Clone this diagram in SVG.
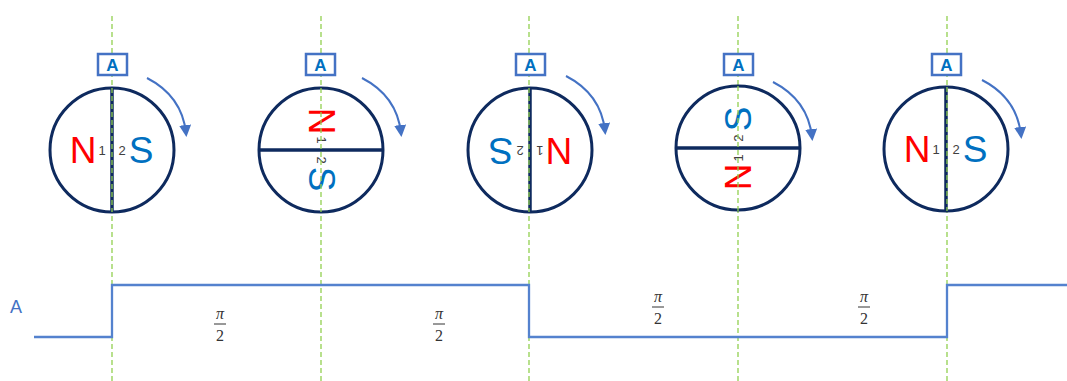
<svg xmlns="http://www.w3.org/2000/svg" width="1067" height="381" viewBox="0 0 1067 381">
  <defs>
    <style>
      .guide{stroke:#92D050;stroke-width:1.3;stroke-dasharray:5 3;fill:none}
      .disc{fill:#fff;stroke:#0E2A5E;stroke-width:3}
      .bar{stroke:#0E2A5E;stroke-width:3.5}
      .pole{font-family:"Liberation Sans",Arial,sans-serif;font-size:37px;text-anchor:middle;dominant-baseline:central}
      .num{font-family:"Liberation Sans",Arial,sans-serif;font-size:13px;fill:#404040;text-anchor:middle;dominant-baseline:central}
      .tag{fill:#fff;stroke:#4472C4;stroke-width:2.5}
      .tagt{font-family:"Liberation Sans",Arial,sans-serif;font-size:17px;font-weight:bold;fill:#0070C0;text-anchor:middle}
      .rot{fill:none;stroke:#4472C4;stroke-width:2}
      .wave{fill:none;stroke:#5482CE;stroke-width:2.3}
      .frac{font-family:"Liberation Serif","Times New Roman",serif;font-size:16px;fill:#333;text-anchor:middle}
    </style>
    <marker id="ah" markerWidth="12" markerHeight="12" refX="8" refY="6" orient="auto" markerUnits="userSpaceOnUse" viewBox="0 0 12 12">
      <path d="M0,0 L12,6 L0,12 z" fill="#4472C4"/>
    </marker>
    <g id="magnet">
      <circle class="disc" cx="0" cy="0" r="62"/>
      <line class="bar" x1="0" y1="-62" x2="0" y2="62"/>
      <text class="pole" x="-29" y="0" fill="#FF0000">N</text>
      <text class="pole" x="29" y="0" fill="#0070C0">S</text>
      <text class="num" x="-10" y="0">1</text>
      <text class="num" x="10" y="0">2</text>
    </g>
  </defs>

  <g id="guides">
    <line class="guide" x1="112" y1="16" x2="112" y2="381"/>
    <line class="guide" x1="321" y1="16" x2="321" y2="381"/>
    <line class="guide" x1="529" y1="16" x2="529" y2="381"/>
    <line class="guide" x1="738" y1="16" x2="738" y2="381"/>
    <line class="guide" x1="947" y1="16" x2="947" y2="381"/>
  </g>

  <g id="rotor1">
    <use href="#magnet" transform="translate(112,150)"/>
    <line class="guide" x1="112" y1="88" x2="112" y2="212"/>
    <rect class="tag" x="98" y="54" width="29" height="21"/>
    <text class="tagt" x="112.5" y="71">A</text>
  </g>
  <g id="rotor2">
    <use href="#magnet" transform="translate(321,150) rotate(90)"/>
    <line class="guide" x1="321" y1="88" x2="321" y2="212"/>
    <rect class="tag" x="306" y="54" width="29" height="21"/>
    <text class="tagt" x="320.5" y="71">A</text>
  </g>
  <g id="rotor3">
    <use href="#magnet" transform="translate(530,150) rotate(180)"/>
    <line class="guide" x1="529" y1="88" x2="529" y2="212"/>
    <rect class="tag" x="516" y="54" width="29" height="21"/>
    <text class="tagt" x="530.5" y="71">A</text>
  </g>
  <g id="rotor4">
    <use href="#magnet" transform="translate(738,148) rotate(270)"/>
    <line class="guide" x1="738" y1="86" x2="738" y2="212"/>
    <rect class="tag" x="724" y="54" width="29" height="21"/>
    <text class="tagt" x="738.5" y="71">A</text>
  </g>
  <g id="rotor5">
    <use href="#magnet" transform="translate(946,149)"/>
    <line class="guide" x1="947" y1="87" x2="947" y2="211"/>
    <rect class="tag" x="932" y="54" width="29" height="21"/>
    <text class="tagt" x="946.5" y="71">A</text>
  </g>

  <g id="connectors">
    <path class="rot" d="M147,78 Q182,96 186,133" marker-end="url(#ah)"/>
    <path class="rot" d="M362,78 Q397,96 401,133" marker-end="url(#ah)"/>
    <path class="rot" d="M566,76 Q601,94 605,131" marker-end="url(#ah)"/>
    <path class="rot" d="M773,82 Q808,100 812,137" marker-end="url(#ah)"/>
    <path class="rot" d="M982,80 Q1017,98 1021,135" marker-end="url(#ah)"/>
  </g>

  <g id="waveform">
    <text x="10" y="313" font-family="'Liberation Sans',Arial,sans-serif" font-size="18" fill="#4472C4">A</text>
    <polyline class="wave" points="34,337 112,337 112,285 529,285 529,337 947,337 947,285 1067,285"/>
  </g>

  <g id="labels">
    <g transform="translate(220,0)">
      <text class="frac" x="0" y="319" font-style="italic">π</text>
      <line x1="-6" y1="324" x2="6" y2="324" stroke="#333" stroke-width="1"/>
      <text class="frac" x="0" y="341">2</text>
    </g>
    <g transform="translate(439,0)">
      <text class="frac" x="0" y="319" font-style="italic">π</text>
      <line x1="-6" y1="324" x2="6" y2="324" stroke="#333" stroke-width="1"/>
      <text class="frac" x="0" y="341">2</text>
    </g>
    <g transform="translate(658,0)">
      <text class="frac" x="0" y="302" font-style="italic">π</text>
      <line x1="-6" y1="307" x2="6" y2="307" stroke="#333" stroke-width="1"/>
      <text class="frac" x="0" y="324">2</text>
    </g>
    <g transform="translate(864,0)">
      <text class="frac" x="0" y="302" font-style="italic">π</text>
      <line x1="-6" y1="307" x2="6" y2="307" stroke="#333" stroke-width="1"/>
      <text class="frac" x="0" y="324">2</text>
    </g>
  </g>
</svg>
